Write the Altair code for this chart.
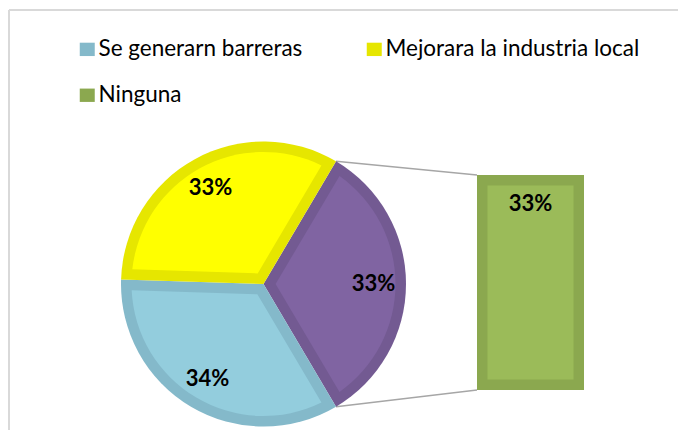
import math
import altair as alt
import pandas as pd

# ---------------- data ----------------
legend_categories = ["Se generarn barreras", "Mejorara la industria local", "Ninguna"]
pie_slices = ["Otro", "Se generarn barreras", "Mejorara la industria local"]
pie_values = [33, 34, 33]
bar_categories = ["Ninguna"]
bar_values = [33]

all_cats = legend_categories + ["Otro"]
fill_colors = ["#93CDDD", "#FFFF00", "#9BBB59", "#8064A2"]
border_colors = ["#84B9CA", "#E6E600", "#8BA84F", "#735A92"]

# ---------------- layout ----------------
CX, CY = 254.5, 274.0          # pie centre (plot coords)
R_OUT = 142.5                  # pie radius
BORDER = 10.5                  # inset border width
BAR_X0, BAR_X1 = 468, 575      # bar horizontal span
BAR_TOP, BAR_BOTTOM = 165, 380

total = sum(pie_values)
start = math.pi / 2 - math.pi * pie_values[0] / total   # "Otro" slice centred at 3 o'clock
theta_scale = alt.Scale(range=[start, start + 2 * math.pi])

pie_df = pd.DataFrame({"cat": pie_slices, "value": pie_values, "ord": list(range(len(pie_slices)))})
pie_df["label"] = [f"{v}%" for v in pie_values]
bar_df = pd.DataFrame({"cat": bar_categories, "value": bar_values})
bar_df["label"] = [f"{v}%" for v in bar_values]

# connector lines from the edges of the "Otro" slice to the bar corners
a1 = start
a2 = start + 2 * math.pi * pie_values[0] / total
conn_df = pd.DataFrame({
    "x": [CX + R_OUT * math.sin(a1), CX + R_OUT * math.sin(a2)],
    "y": [CY - R_OUT * math.cos(a1), CY - R_OUT * math.cos(a2)],
    "x2": [BAR_X0, BAR_X0],
    "y2": [BAR_TOP, BAR_BOTTOM],
})

color_scale = alt.Scale(domain=all_cats, range=border_colors)
fill_scale = alt.Scale(domain=all_cats, range=fill_colors)
y_scale = alt.Scale(domain=[0, bar_values[0]], range=[BAR_BOTTOM, BAR_TOP])

legend = alt.Legend(
    title=None, orient="none", legendX=67, legendY=28, columns=2, direction="horizontal",
    values=legend_categories, symbolType="M-1,-0.89H1V0.89H-1Z", symbolSize=225,
    symbolStrokeWidth=0, labelFont="Lato", labelFontSize=22.5, labelColor="#000000",
    labelOffset=0, columnPadding=60, rowPadding=23, padding=0, labelLimit=0,
)

theta = alt.Theta("value:Q", stack=True, scale=theta_scale)
order = alt.Order("ord:Q")

pie_base = alt.Chart(pie_df).encode(theta=theta, order=order, x=alt.value(CX), y=alt.value(CY))

pie_border = pie_base.mark_arc(outerRadius=R_OUT).encode(
    color=alt.Color("cat:N", scale=color_scale, legend=legend)
)
inner_r = R_OUT - BORDER
pad_r = math.sqrt(12.1 ** 2 + inner_r ** 2)
pie_fill = pie_base.mark_arc(
    innerRadius=12.1, outerRadius=inner_r, padAngle=2 * math.asin(BORDER / pad_r)
).encode(fill=alt.Fill("cat:N", scale=fill_scale, legend=None))
pie_text = pie_base.mark_text(
    radius=110, font="Lato", fontWeight="bold", fontSize=22, color="#000000"
).encode(text="label:N")

bar_border = alt.Chart(bar_df).mark_rect().encode(
    x=alt.value(BAR_X0), x2=alt.value(BAR_X1),
    y=alt.Y("value:Q", scale=y_scale, axis=None), y2=alt.datum(0),
    color=alt.Color("cat:N", scale=color_scale, legend=legend),
)
bar_fill = alt.Chart(bar_df).mark_rect(yOffset=BORDER, y2Offset=-BORDER).encode(
    x=alt.value(BAR_X0 + BORDER), x2=alt.value(BAR_X1 - BORDER),
    y=alt.Y("value:Q", scale=y_scale, axis=None), y2=alt.datum(0),
    fill=alt.Fill("cat:N", scale=fill_scale, legend=None),
)
bar_text = alt.Chart(bar_df).mark_text(
    dy=29, font="Lato", fontWeight="bold", fontSize=22, color="#000000"
).encode(
    x=alt.value((BAR_X0 + BAR_X1) / 2),
    y=alt.Y("value:Q", scale=y_scale, axis=None),
    text="label:N",
)

connectors = alt.Chart(conn_df).mark_rule(color="#A6A6A6", strokeWidth=1.5).encode(
    x=alt.X("x:Q", scale=None, axis=None), y=alt.Y("y:Q", scale=None, axis=None),
    x2="x2:Q", y2="y2:Q",
)

W, H = 669, 420
frame_top = alt.Chart(pd.DataFrame({"k": [0]})).mark_rule(color="#D9D9D9", strokeWidth=2).encode(
    x=alt.value(0), x2=alt.value(W), y=alt.value(0)
)
frame_left = alt.Chart(pd.DataFrame({"k": [0]})).mark_rule(color="#D9D9D9", strokeWidth=2).encode(
    x=alt.value(0), y=alt.value(0), y2=alt.value(H)
)

chart = alt.layer(
    frame_top, frame_left, connectors, pie_border, pie_fill, pie_text,
    bar_border, bar_fill, bar_text,
).resolve_scale(y="independent", x="independent").properties(
    width=W, height=H, autosize="none",
    padding={"left": 1, "top": 2, "right": 0, "bottom": 0},
    background="#FFFFFF",
).configure_view(stroke=None)

chart.save("out.html", embed_options={"renderer": "svg", "actions": False})
